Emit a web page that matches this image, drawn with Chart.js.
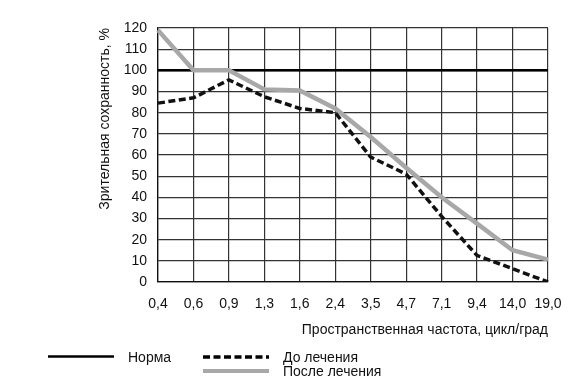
<!DOCTYPE html>
<html>
<head>
<meta charset="utf-8">
<script src="https://cdn.jsdelivr.net/npm/chart.js@4.4.1/dist/chart.umd.min.js"></script>
<style>
  html, body { margin: 0; padding: 0; background: #fff; }
  #wrap { width: 585px; height: 389px; position: relative; }
</style>
</head>
<body>
<div id="wrap"><canvas id="c" width="585" height="389"></canvas></div>
<script>
const categories = ['0,4','0,6','0,9','1,3','1,6','2,4','3,5','4,7','7,1','9,4','14,0','19,0'];
const normValues   = [100, 100, 100, 100, 100, 100, 100, 100, 100, 100, 100, 100];
const beforeValues = [84.5, 87, 95.5, 87.5, 82, 80, 59, 51, 31, 12.5, 6.3, 0];
const afterValues  = [119, 100, 100, 91, 90.5, 82, 68.5, 54, 40, 27.6, 15, 10.6];
const yTicks = { min: 0, max: 120, step: 10 };
const seriesNames = ['Норма', 'До лечения', 'После лечения'];
const xTitle = 'Пространственная частота, цикл/град';
const yTitle = 'Зрительная сохранность, %';

const FONT = '"Liberation Sans", Arial, Helvetica, sans-serif';
const FS = 14;
const GRAY = '#a8a8a8';
const DASH = [7, 3.5];

const legendPlugin = {
  id: 'customLegend',
  afterDraw(chart) {
    const ctx = chart.ctx;
    ctx.save();
    ctx.font = FS + 'px ' + FONT;
    ctx.fillStyle = '#111';
    ctx.textBaseline = 'middle';
    ctx.textAlign = 'left';
    // Норма
    ctx.beginPath(); ctx.strokeStyle = '#000'; ctx.lineWidth = 2.5; ctx.setLineDash([]);
    ctx.moveTo(48, 356.5); ctx.lineTo(114, 356.5); ctx.stroke();
    ctx.fillText(seriesNames[0], 128, 358);
    // До лечения
    ctx.beginPath(); ctx.strokeStyle = '#000'; ctx.lineWidth = 3.5; ctx.setLineDash(DASH);
    ctx.moveTo(203, 357); ctx.lineTo(269, 357); ctx.stroke();
    ctx.fillText(seriesNames[1], 283, 358);
    // После лечения
    ctx.beginPath(); ctx.strokeStyle = GRAY; ctx.lineWidth = 4; ctx.setLineDash([]);
    ctx.moveTo(203, 371); ctx.lineTo(269, 371); ctx.stroke();
    ctx.fillText(seriesNames[2], 283, 372.5);
    ctx.restore();
  }
};

new Chart(document.getElementById('c'), {
  type: 'line',
  data: {
    labels: categories,
    datasets: [
      { label: seriesNames[0], data: normValues, borderColor: '#000', borderWidth: 2.5,
        pointRadius: 0, tension: 0, order: 3 },
      { label: seriesNames[2], data: afterValues, borderColor: GRAY, borderWidth: 4.5,
        pointRadius: 0, tension: 0, order: 2, borderJoinStyle: 'miter' },
      { label: seriesNames[1], data: beforeValues, borderColor: '#111', borderWidth: 3.5,
        borderDash: DASH, pointRadius: 0, tension: 0, order: 1 }
    ]
  },
  options: {
    responsive: false,
    animation: false,
    devicePixelRatio: 1,
    layout: { padding: { left: 90, right: 37, top: 28, bottom: 47 } },
    plugins: { legend: { display: false }, tooltip: { enabled: false }, title: { display: false } },
    scales: {
      x: {
        type: 'category',
        offset: false,
        grid: { color: '#333', lineWidth: 1.2, drawTicks: false },
        border: { color: '#111', width: 1.3 },
        ticks: { color: '#111', font: { family: FONT, size: FS }, padding: 14, maxRotation: 0, autoSkip: false },
        title: { display: true, text: xTitle, align: 'end', color: '#111',
                 font: { family: FONT, size: FS }, padding: { top: 0, bottom: 3.6 } },
        afterFit(scale) { scale.height = 60; }
      },
      y: {
        min: yTicks.min, max: yTicks.max,
        grid: { color: '#333', lineWidth: 1.2, drawTicks: false },
        border: { color: '#111', width: 1.3 },
        ticks: { stepSize: yTicks.step, color: '#111', font: { family: FONT, size: FS }, padding: 11 },
        title: { display: true, text: yTitle, align: 'end', color: '#111',
                 font: { family: FONT, size: FS }, padding: { top: 6.6, bottom: 0 } },
        afterFit(scale) { scale.width = 68; }
      }
    }
  },
  plugins: [legendPlugin]
});
</script>
</body>
</html>
